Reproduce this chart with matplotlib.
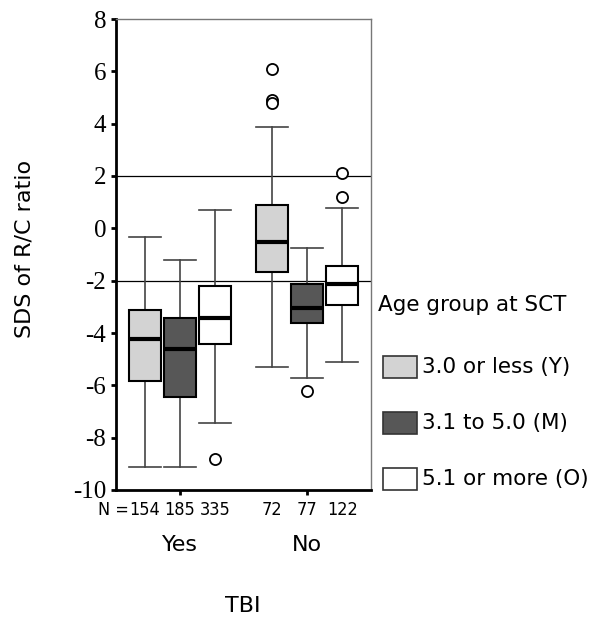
import matplotlib
matplotlib.use("Agg")
import matplotlib.pyplot as plt
from matplotlib import font_manager
from matplotlib.patches import Rectangle
import matplotlib.transforms as mtransforms

# box statistics (TBI Yes / No, three age groups each)
groups = ["Yes", "No"]
age_labels = ["3.0 or less (Y)", "3.1 to 5.0 (M)", "5.1 or more (O)"]
counts = [154, 185, 335, 72, 77, 122]
medians = [-4.22, -4.62, -3.41, -0.51, -3.04, -2.13]
q1 = [-5.82, -6.44, -4.42, -1.68, -3.60, -2.92]
q3 = [-3.12, -3.44, -2.20, 0.88, -2.14, -1.43]
whis_lo = [-9.13, -9.13, -7.43, -5.31, -5.72, -5.10]
whis_hi = [-0.33, -1.22, 0.69, 3.87, -0.74, 0.78]
fliers = [[], [], [-8.81], [6.09, 4.90, 4.78], [-6.21], [2.10, 1.19]]
ref_lines = [2, -2]

colors = ["#d3d3d3", "#575757", "#ffffff"]

names = {f.name for f in font_manager.fontManager.ttflist}
if "Liberation Sans Narrow" in names:
    narrow = dict(family="Liberation Sans Narrow")
else:
    narrow = dict(family="DejaVu Sans", stretch="condensed")

fig = plt.figure(figsize=(5.99, 6.18), dpi=100)
ax = fig.add_axes([116 / 599, 1 - 490 / 618, 255 / 599, 471 / 618])

offsets = [-0.275, 0, 0.275]
stats = []
positions = []
for i in range(6):
    g, k = divmod(i, 3)
    positions.append(g + 1 + offsets[k])
    stats.append(dict(med=medians[i], q1=q1[i], q3=q3[i],
                      whislo=whis_lo[i], whishi=whis_hi[i], fliers=fliers[i]))

bp = ax.bxp(stats, positions=positions, widths=0.25, patch_artist=True,
            boxprops=dict(edgecolor="black", linewidth=1.5),
            medianprops=dict(color="black", linewidth=3),
            whiskerprops=dict(color="#444444", linewidth=1.2),
            capprops=dict(color="#444444", linewidth=1.2),
            capwidths=0.25,
            flierprops=dict(marker="o", markersize=8, markerfacecolor="white",
                            markeredgecolor="black", markeredgewidth=1.3))
for i, box in enumerate(bp["boxes"]):
    box.set_facecolor(colors[i % 3])
    box.set_zorder(3)
for m in bp["medians"]:
    m.set_zorder(4)

for y in ref_lines:
    ax.axhline(y, color="black", linewidth=0.9, zorder=1)

ax.set_xlim(0.5, 2.5)
ax.set_ylim(-10, 8)
yt = list(range(-10, 9, 2))
ax.set_yticks(yt)
ax.set_yticklabels([str(v) for v in yt], family="Liberation Serif", fontsize=18)
ax.set_xticks([1, 2])
ax.set_xticklabels(["", ""])
ax.tick_params(direction="out", length=3.6, width=2, color="black", pad=3.5)

ax.spines["left"].set_linewidth(2)
ax.spines["bottom"].set_linewidth(2)
for s in ["top", "right"]:
    ax.spines[s].set_color("#777777")
    ax.spines[s].set_linewidth(1)

trans = mtransforms.blended_transform_factory(ax.transData, fig.transFigure)
for i, n in enumerate(counts):
    ax.text(positions[i], 1 - 510 / 618, str(n), transform=trans,
            ha="center", va="center", fontsize=13, **narrow)
ax.text(positions[0] - 0.125, 1 - 510 / 618, "N =", transform=trans,
        ha="right", va="center", fontsize=13, **narrow)
for g, name in enumerate(groups):
    ax.text(g + 1, 1 - 545 / 618, name, transform=trans, ha="center",
            va="center", fontsize=16, family="DejaVu Sans")

fig.text(243 / 599, 1 - 606 / 618, "TBI", ha="center", va="center",
         fontsize=16, family="DejaVu Sans")
fig.text(25 / 599, 1 - 249 / 618, "SDS of R/C ratio", rotation=90,
         ha="center", va="center", fontsize=16, family="DejaVu Sans")

# legend drawn by hand to match the placement
fig.text(378 / 599, 1 - 305 / 618, "Age group at SCT", ha="left",
         va="center", fontsize=15.5, family="DejaVu Sans")
for k, lab in enumerate(age_labels):
    yc = 367 + 56 * k
    fig.patches.append(Rectangle((383 / 599, 1 - (yc + 11) / 618), 34 / 599,
                                 22 / 618, transform=fig.transFigure,
                                 facecolor=colors[k], edgecolor="#333333",
                                 linewidth=1.2))
    fig.text(422 / 599, 1 - yc / 618, lab, ha="left", va="center",
             fontsize=15.5, family="DejaVu Sans")

fig.savefig("out.png", dpi=100)
